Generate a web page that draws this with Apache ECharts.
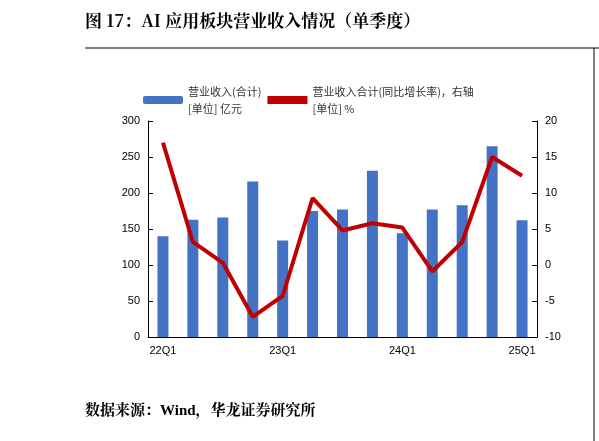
<!DOCTYPE html><html><head><meta charset="utf-8"><script src="https://cdn.jsdelivr.net/npm/echarts@6/dist/echarts.min.js"></script></head><body style="margin:0"><div id="c" style="width:599px;height:441px"></div><script>
const categories=['22Q1','22Q2','22Q3','22Q4','23Q1','23Q2','23Q3','23Q4','24Q1','24Q2','24Q3','24Q4','25Q1'];
const revenue=[140,163,166,216,134,175,177,231,144,177,183,265,162];
const growth=[17,3.2,0.3,-7.2,-4.3,9.3,4.8,5.8,5.2,-0.9,3.2,15,12.4];
const c=echarts.init(document.getElementById('c'));
const f='"Noto Sans CJK SC"';
c.setOption({animation:false,
graphic:[
{type:'text',left:85,top:12,style:{text:'图 17：AI 应用板块营业收入情况（单季度）',font:'bold 17px "Noto Serif CJK SC","Noto Sans CJK SC"',fill:'#000'}},
{type:'line',shape:{x1:85,y1:48,x2:599,y2:48},style:{stroke:'#000',lineWidth:1}},
{type:'line',shape:{x1:594,y1:48,x2:594,y2:441},style:{stroke:'#000',lineWidth:1}},
{type:'text',left:85,top:404,style:{text:'数据来源：Wind，华龙证券研究所',font:'bold 15px "Liberation Serif","Noto Serif CJK SC","Noto Sans CJK SC"',fill:'#000'}}
],
legend:{top:78,left:138,itemGap:6,itemWidth:40,itemHeight:8,textStyle:{fontSize:11,fontFamily:f,color:'#333',lineHeight:17},
data:[{name:'营业收入(合计)\n[单位] 亿元'},{name:'营业收入合计(同比增长率)，右轴\n[单位] %',icon:'rect'}]},
grid:{left:148,right:62,top:121,bottom:104},
xAxis:{type:'category',data:categories,axisTick:{show:false},axisLine:{lineStyle:{color:'#000'}},
axisLabel:{interval:3,fontSize:11,color:'#000',fontFamily:'Liberation Sans'}},
yAxis:[{min:0,max:300,interval:50,splitLine:{show:false},axisLine:{show:true,lineStyle:{color:'#000'}},axisTick:{show:true,inside:true},axisLabel:{fontSize:11,color:'#000'}},
{min:-10,max:20,interval:5,splitLine:{show:false},axisLine:{show:true,lineStyle:{color:'#000'}},axisTick:{show:true,inside:true},axisLabel:{fontSize:11,color:'#000'}}],
series:[{name:'营业收入(合计)\n[单位] 亿元',type:'bar',data:revenue,barWidth:11,itemStyle:{color:'#4472C4'}},
{name:'营业收入合计(同比增长率)，右轴\n[单位] %',type:'line',yAxisIndex:1,data:growth,symbol:'none',lineStyle:{color:'#C00000',width:4},itemStyle:{color:'#C00000'}}]
});
</script></body></html>
